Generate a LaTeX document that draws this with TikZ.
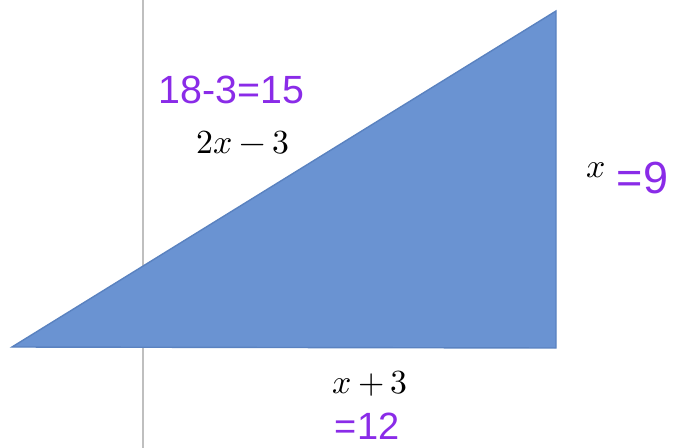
\documentclass[tikz,border=0pt]{standalone}
\usepackage{fontspec}
\usepackage{unicode-math}
\newfontfamily\handfont{Liberation Sans}
\definecolor{triblue}{HTML}{6A93D2}
\definecolor{triedge}{HTML}{5A82C0}
\definecolor{penpurple}{HTML}{8A2BE8}

\begin{document}
\begin{tikzpicture}[x=0.025cm,y=-0.025cm,font=\fontsize{24}{26}\selectfont]
\useasboundingbox (0,0) rectangle (680,448);
\draw[black!25,line width=0.8pt] (143,0)--(143,448);
\coordinate (A) at (12,347);
\coordinate (B) at (556,348);
\coordinate (C) at (556,11);
\fill[triblue,draw=triedge,line width=1pt] (A)--(B)--(C)--cycle;
\node (hyp) at (243,143) {\medmuskip=3.5mu$2x-3$};
\node (base) at (370,384) {\medmuskip=3.5mu$x+3$};
\node[anchor=east] (side) at (611,170) {$x$};
\node[anchor=west,text=penpurple,font=\handfont\fontsize{28}{30}\selectfont] (hypval) at (154,90) {18-3=15};
\node[anchor=west,text=penpurple,font=\handfont\fontsize{32}{34}\selectfont] (sideval) at (612,178) {=9};
\node[anchor=west,text=penpurple,font=\handfont\fontsize{27}{29}\selectfont] (baseval) at (330,426) {=12};
\end{tikzpicture}
\end{document}
